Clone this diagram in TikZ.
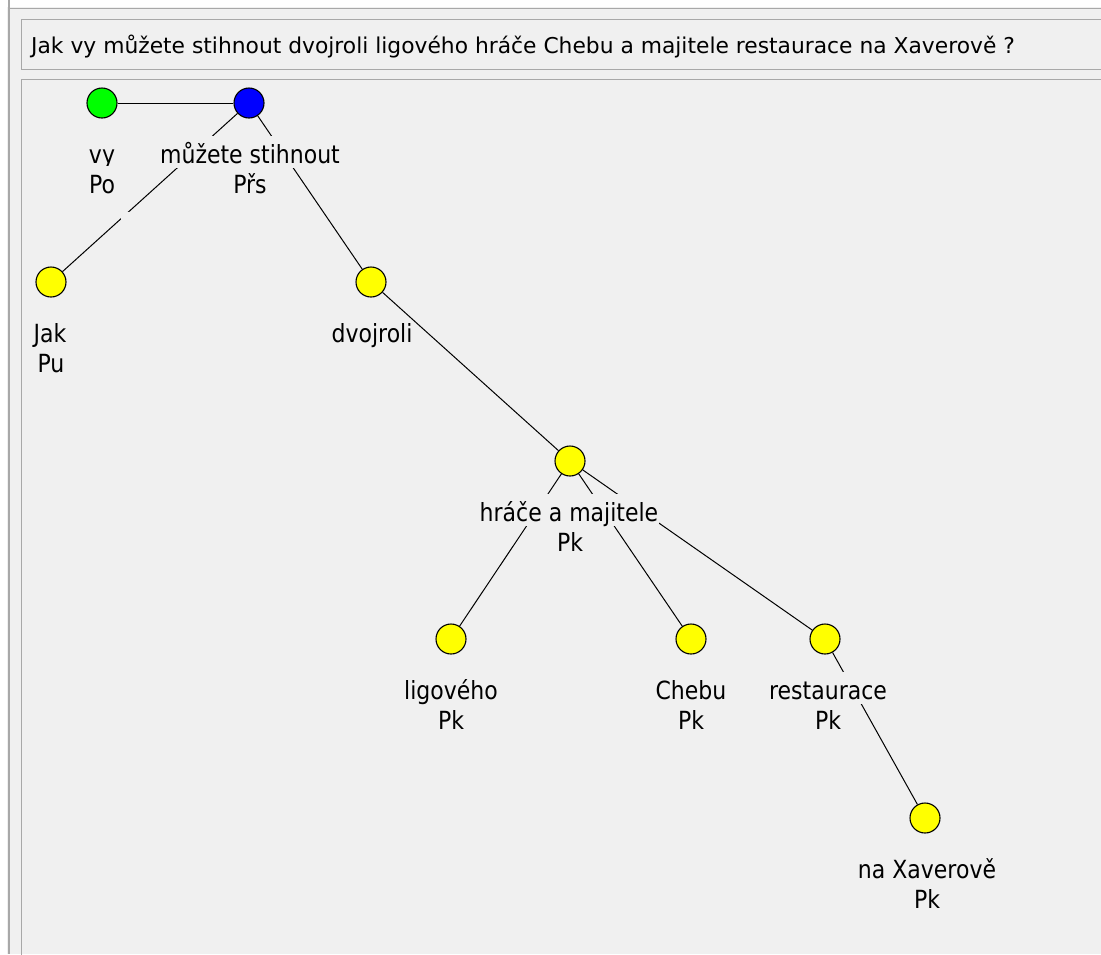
\documentclass[tikz,border=0pt]{standalone}
\usepackage{fontspec}
\setmainfont{DejaVu Sans}
\newfontfamily\lblfont{DejaVu Sans}[FakeStretch=0.88]
\definecolor{bg}{HTML}{F0F0F0}
\definecolor{framec}{HTML}{A8A8A8}
\definecolor{vgreen}{HTML}{00FF00}
\definecolor{vblue}{HTML}{0000FF}
\definecolor{vyellow}{HTML}{FFFF00}
\begin{document}
\begin{tikzpicture}[x=1pt,y=-1pt,
  vert/.style={circle,draw=black,line width=1.1pt,minimum size=30pt,inner sep=0pt},
  lbl/.style={font=\lblfont\fontsize{25}{30}\selectfont,fill=bg,anchor=base,
    inner xsep=1pt,inner ysep=2pt,text height=25pt,text depth=3pt},
  edge/.style={draw=black,line width=1pt},
  framel/.style={draw=framec,line width=1.5pt}]
\useasboundingbox (0,0) rectangle (1101,954);
% window frame
\fill[bg] (0,0) rectangle (1101,954);
\fill[white] (0,0) rectangle (7,954);
\fill[white] (0,0) rectangle (1101,7);
\draw[framel,line width=2pt] (8.5,0) -- (8.5,954);
\draw[framel] (9,8.5) -- (1102,8.5);
\draw[framel] (1102,19.5) -- (21.5,19.5) -- (21.5,69.5) -- (1102,69.5);
\draw[framel] (1102,79.5) -- (21.5,79.5) -- (21.5,955);
% sentence
\node[anchor=base west,font=\fontsize{21.8}{26}\selectfont,inner sep=0pt] (q) at (31,53)
  {Jak vy můžete stihnout dvojroli ligového hráče Chebu a majitele restaurace na Xaverově ?};
% vertices
\node[vert,fill=vgreen] (vy) at (102,103) {};
\node[vert,fill=vblue] (ms) at (249,103) {};
\node[vert,fill=vyellow] (jak) at (51,282) {};
\node[vert,fill=vyellow] (dv) at (371,282) {};
\node[vert,fill=vyellow] (hm) at (570,461) {};
\node[vert,fill=vyellow] (lig) at (451,639) {};
\node[vert,fill=vyellow] (che) at (691,639) {};
\node[vert,fill=vyellow] (res) at (825,639) {};
\node[vert,fill=vyellow] (nx) at (925,818) {};
% edges
\draw[edge] (vy) -- (ms);
\draw[edge] (ms) -- (jak);
\draw[edge] (ms) -- (dv);
\draw[edge] (dv) -- (hm);
\draw[edge] (hm) -- (lig);
\draw[edge] (hm) -- (che);
\draw[edge] (hm) -- (res);
\draw[edge] (res) -- (nx);
\fill[bg] (121,212) rectangle (131,223);
% labels
\node[lbl] (vy1) at (102,163) {vy};
\node[lbl] (vy2) at (102,193) {Po};
\node[lbl] (ms1) at (250,163) {můžete stihnout};
\node[lbl] (ms2) at (250,193) {Přs};
\node[lbl] (jak1) at (50,342) {Jak};
\node[lbl] (jak2) at (51,372) {Pu};
\node[lbl,fill=none] (dv1) at (372,342) {dvojroli};
\node[lbl] (hm1) at (569,521) {hráče a majitele};
\node[lbl] (hm2) at (570,551) {Pk};
\node[lbl] (lig1) at (451,699) {ligového};
\node[lbl] (lig2) at (451,729) {Pk};
\node[lbl] (che1) at (691,699) {Chebu};
\node[lbl] (che2) at (691,729) {Pk};
\node[lbl] (res1) at (828,699) {restaurace};
\node[lbl] (res2) at (828,729) {Pk};
\node[lbl] (nx1) at (927,878) {na Xaverově};
\node[lbl] (nx2) at (927,908) {Pk};
\end{tikzpicture}
\end{document}
